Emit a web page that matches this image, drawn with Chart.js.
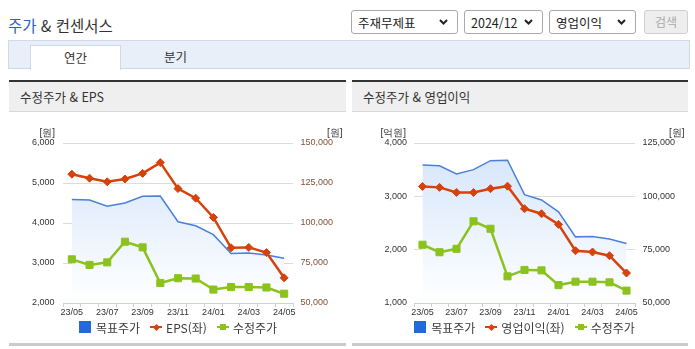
<!DOCTYPE html>
<html lang="ko">
<head>
<meta charset="utf-8">
<title>주가 &amp; 컨센서스</title>
<script src="https://cdn.jsdelivr.net/npm/chart.js@4.4.1/dist/chart.umd.min.js"></script>
<style>
body{margin:0;width:695px;height:349px;overflow:hidden;background:#fff;position:relative;
  font-family:"Noto Sans CJK KR","Noto Sans",sans-serif;color:#333}
.abs{position:absolute}
#ttl{left:8px;top:14px;font-size:15.5px;line-height:22px;white-space:nowrap;color:#333}
#ttl em{font-style:normal;color:#2e62c9}
select{position:absolute;top:10px;height:24px;box-sizing:border-box;margin:0;padding:0 0 0 6px;
  -webkit-appearance:none;appearance:none;border:1px solid #a9a9a9;border-radius:3px;color:#222;
  font:12.5px "Noto Sans CJK KR",sans-serif;
  background:#fff url("data:image/svg+xml,%3Csvg xmlns='http://www.w3.org/2000/svg' width='9' height='6'%3E%3Cpath d='M1 1l3.5 3.5L8 1' fill='none' stroke='%23222' stroke-width='2'/%3E%3C/svg%3E") no-repeat right 9px center}
#btn{left:644px;top:10px;width:44px;height:24px;box-sizing:border-box;border:1px solid #d0d0d0;border-radius:3px;
  background:#eee;color:#aaa;font-size:12px;line-height:22px;text-align:center}
#tabs{left:8px;top:40px;width:682px;height:29px;box-sizing:border-box;background:#e9eff8;border:1px solid #cfd9ea}
.tab{top:45px;height:25px;width:91px;box-sizing:border-box;font-size:12.5px;line-height:24px;text-align:center}
.tab.on{background:#fff;border:1px solid #cfd9ea;border-bottom:0}
.panel{top:80px;height:266px;box-sizing:border-box;border-top:2px solid #333;border-bottom:3px solid #cbcbcb}
.phead{height:30px;box-sizing:border-box;background:#efefef;border-bottom:1px solid #d8d8d8;padding-left:11px}
.phead span{display:inline-block;font-size:13px;line-height:29px;white-space:nowrap;transform:scaleX(.96);transform-origin:left center;color:#333}
canvas{position:absolute;top:114px}
.legend{position:absolute;top:319px;height:16px;display:flex;justify-content:center;align-items:center;
  font-size:12px;color:#3c3c3c;white-space:nowrap}
.legend .it{display:flex;align-items:center;margin-left:10px}
.legend .it:first-child{margin-left:0}
.legend .box{width:12px;height:12px;margin-right:5px}
.legend .ln{position:relative;width:12px;height:2px;margin-right:4px}
.legend .ln i{position:absolute;left:3px;top:-2px;width:6px;height:6px}
.legend .ln i.rot{transform:rotate(45deg);width:5px;height:5px;left:3.5px;top:-1.5px}
</style>
</head>
<body>
<div id="ttl" class="abs"><em>주가</em> &amp; 컨센서스</div>
<select style="left:351px;width:107px"><option>주재무제표</option></select>
<select style="left:464px;width:79px"><option>2024/12</option></select>
<select style="left:549px;width:87px"><option>영업이익</option></select>
<div id="btn" class="abs">검색</div>
<div id="tabs" class="abs"></div>
<div class="abs tab on" style="left:30px">연간</div>
<div class="abs tab" style="left:130px">분기</div>

<div class="abs panel" style="left:9px;width:337px"><div class="phead"><span>수정주가 &amp; EPS</span></div></div>
<div class="abs panel" style="left:352px;width:336px"><div class="phead"><span>수정주가 &amp; 영업이익</span></div></div>

<canvas id="epsChart" width="337" height="207" style="left:9px"></canvas>
<canvas id="opChart" width="336" height="207" style="left:352px"></canvas>
<div id="epsLegend" class="legend"></div>
<div id="opLegend" class="legend"></div>

<script>
// monthly points, 23/05 .. 24/05
const months = ['23/05','23/06','23/07','23/08','23/09','23/10','23/11','23/12','24/01','24/02','24/03','24/04','24/05'];
const targetPrice = [114700, 114300, 110500, 112500, 116700, 116900, 100800, 98300, 92700, 81000, 81200, 80000, 77900];
const adjPrice = [77300, 73800, 75400, 88300, 84800, 62500, 65500, 65300, 58400, 60000, 60000, 59700, 55800];
const eps = [5220, 5120, 5030, 5100, 5240, 5510, 4860, 4620, 4140, 3380, 3390, 3260, 2630];
const opProfit = [3186, 3168, 3074, 3072, 3143, 3190, 2768, 2674, 2474, 1981, 1956, 1887, 1562];

const epsTicks = [2000, 6000, 1000];
const opTicks = [1000, 4000, 1000];
const priceTicksEps = [50000, 150000, 25000];
const priceTicksOp = [50000, 125000, 25000];

const NARROW = "'Liberation Sans Narrow','Liberation Sans',sans-serif";
const fmt = v => Number(v).toLocaleString('en-US');

// axis unit captions above the plot
const unitPlugin = {
  id: 'units',
  afterDraw(chart, args, opts) {
    const c = chart.ctx, a = chart.chartArea;
    c.save();
    c.font = '10px ' + NARROW;
    c.fillStyle = '#333';
    c.textAlign = 'right';
    c.textBaseline = 'middle';
    c.fillText(opts.left, a.left - 8, a.top - 10);
    c.fillText(opts.right, chart.width - 3.5, a.top - 10);
    c.restore();
  }
};

function areaFill(ctx) {
  const area = ctx.chart.chartArea;
  if (!area) return 'rgba(220,233,250,0.6)';
  const g = ctx.chart.ctx.createLinearGradient(0, area.top, 0, area.bottom);
  g.addColorStop(0, '#d3e4fa');
  g.addColorStop(1, '#ffffff');
  return g;
}

function makeChart(id, o) {
  return new Chart(document.getElementById(id), {
    type: 'line',
    data: {
      labels: months,
      datasets: [{
        label: '목표주가',
        data: targetPrice,
        yAxisID: 'y1',
        borderColor: '#4a80d8',
        borderWidth: 1.5,
        backgroundColor: areaFill,
        fill: 'start',
        pointRadius: 0,
        order: 3
      }, {
        label: o.label,
        data: o.values,
        yAxisID: 'y',
        borderColor: '#d5420c',
        backgroundColor: '#d5420c',
        borderWidth: 2.5,
        pointStyle: 'rectRot',
        pointRadius: 4,
        pointBorderWidth: 1,
        order: 2
      }, {
        label: '수정주가',
        data: adjPrice,
        yAxisID: 'y1',
        borderColor: '#8cc21e',
        backgroundColor: '#8cc21e',
        borderWidth: 2.5,
        pointStyle: 'rect',
        pointRadius: 5,
        pointBorderWidth: 1,
        order: 1
      }]
    },
    options: {
      responsive: false,
      animation: false,
      devicePixelRatio: 1,
      layout: { padding: { top: 29, left: 0, right: 0, bottom: 0 } },
      plugins: {
        legend: { display: false },
        tooltip: { enabled: false },
        units: { left: o.unit, right: '[원]' }
      },
      scales: {
        x: {
          offset: true,
          grid: { drawOnChartArea: false, tickLength: 4, color: '#c5d2e3', offset: true },
          border: { color: '#c5d2e3' },
          ticks: {
            autoSkip: false, maxRotation: 0, padding: 0, color: '#333',
            font: { family: NARROW, size: 9 },
            callback(v, i) { return i % 2 === 0 ? this.getLabelForValue(v) : ''; }
          },
          afterFit(s) { s.height = 18; }
        },
        y: {
          position: 'left',
          min: o.left[0], max: o.left[1],
          grid: { color: '#dcdcdc', drawTicks: false },
          border: { display: false },
          ticks: { stepSize: o.left[2], padding: o.pad, color: '#333',
                   font: { family: NARROW, size: 9 }, callback: fmt },
          afterFit(s) { s.width = o.leftW; }
        },
        y1: {
          position: 'right',
          min: o.right[0], max: o.right[1],
          grid: { drawOnChartArea: false, drawTicks: false },
          border: { display: false },
          ticks: { stepSize: o.right[2], padding: 7.5, color: o.rightColor,
                   font: { family: NARROW, size: 9 }, callback: fmt },
          afterFit(s) { s.width = 53; }
        }
      }
    },
    plugins: [unitPlugin]
  });
}

function buildLegend(elId, chart, canvasLeft) {
  const el = document.getElementById(elId);
  const a = chart.chartArea;
  el.style.left = (canvasLeft + a.left) + 'px';
  el.style.width = (a.right - a.left) + 'px';
  chart.data.datasets.forEach(ds => {
    const it = document.createElement('span');
    it.className = 'it';
    let mark;
    if (ds.fill) {
      mark = '<span class="box" style="background:#2369d8"></span>';
    } else {
      const cls = ds.pointStyle === 'rectRot' ? 'rot' : '';
      mark = '<span class="ln" style="background:' + ds.borderColor + '"><i class="' + cls +
             '" style="background:' + ds.borderColor + '"></i></span>';
    }
    it.innerHTML = mark + '<span></span>';
    it.lastChild.textContent = ds.label;
    el.appendChild(it);
  });
}

const epsChart = makeChart('epsChart', {
  label: 'EPS(좌)', values: eps, unit: '[원]',
  left: epsTicks, right: priceTicksEps, leftW: 54, pad: 8.5, rightColor: '#7e5038'
});
const opChart = makeChart('opChart', {
  label: '영업이익(좌)', values: opProfit, unit: '[억원]',
  left: opTicks, right: priceTicksOp, leftW: 62, pad: 7, rightColor: '#333'
});
buildLegend('epsLegend', epsChart, 9);
buildLegend('opLegend', opChart, 352);
</script>
</body>
</html>
